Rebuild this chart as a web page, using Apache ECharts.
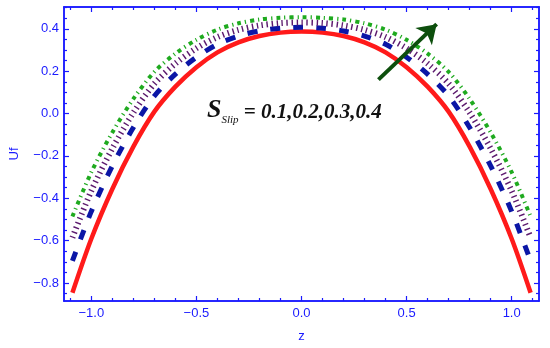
<!DOCTYPE html>
<html>
<head>
<meta charset="utf-8">
<script src="https://cdn.jsdelivr.net/npm/echarts@6/dist/echarts.min.js"></script>
<style>
  html, body { margin: 0; padding: 0; background: #fff; }
  #main { width: 550px; height: 348px; }
</style>
</head>
<body>
<div id="main"></div>
<script>
var zValues = [-1.09, -1.0, -0.9, -0.8, -0.7, -0.6, -0.5, -0.4, -0.3, -0.2, -0.1, 0,
  0.1, 0.2, 0.3, 0.4, 0.5, 0.6, 0.7, 0.8, 0.9, 1.0, 1.09];
// Uf for S_slip = 0.1 .. 0.4
var uSlip1 = [-0.846, -0.591, -0.356, -0.156, 0.009, 0.127, 0.219, 0.289, 0.336, 0.366, 0.382, 0.387,
  0.382, 0.366, 0.336, 0.289, 0.219, 0.127, 0.009, -0.156, -0.356, -0.591, -0.846];
var uSlip2 = [-0.696, -0.462, -0.247, -0.066, 0.083, 0.186, 0.266, 0.327, 0.366, 0.390, 0.403, 0.407,
  0.403, 0.390, 0.366, 0.327, 0.266, 0.186, 0.083, -0.066, -0.247, -0.462, -0.696];
var uSlip3 = [-0.586, -0.365, -0.165, 0.004, 0.141, 0.236, 0.308, 0.361, 0.395, 0.416, 0.427, 0.430,
  0.427, 0.416, 0.395, 0.361, 0.308, 0.236, 0.141, 0.004, -0.165, -0.365, -0.586];
var uSlip4 = [-0.486, -0.277, -0.089, 0.069, 0.197, 0.283, 0.348, 0.396, 0.426, 0.444, 0.452, 0.455,
  0.452, 0.444, 0.426, 0.396, 0.348, 0.283, 0.197, 0.069, -0.089, -0.277, -0.486];

// tick positions
var xMajorTicks = [-1.0, -0.5, 0.0, 0.5, 1.0];
var xMinorTicks = [-1.1, -0.9, -0.8, -0.7, -0.6, -0.4, -0.3, -0.2, -0.1,
  0.1, 0.2, 0.3, 0.4, 0.6, 0.7, 0.8, 0.9, 1.1];
var yMajorTicks = [-0.8, -0.6, -0.4, -0.2, 0.0, 0.2, 0.4];
var yMinorTicks = [-0.85, -0.75, -0.7, -0.65, -0.55, -0.5, -0.45, -0.35, -0.3, -0.25,
  -0.15, -0.1, -0.05, 0.05, 0.1, 0.15, 0.25, 0.3, 0.35, 0.45, 0.5];

// arrow (tail, head) in data coords
var arrowPts = [[0.366, 0.160], [0.643, 0.422]];

var xRange = [-1.13, 1.13];
var yRange = [-0.885, 0.503];
var blue = "#1a1aff";

function pairs(ys) {
  return zValues.map(function (z, i) { return [z, ys[i]]; });
}
function fmt(v) {
  return v.toFixed(1).replace("-", "\u2212");
}

function xAx(pos, ticks, len, labels) {
  return {
    type: "value", position: pos, min: xRange[0], max: xRange[1],
    name: labels ? "z" : "", nameLocation: "middle", nameGap: 29,
    nameTextStyle: { color: blue, fontFamily: "Liberation Sans", fontSize: 13 },
    axisLine: { show: true, onZero: false, lineStyle: { color: blue, width: 1.5 } },
    axisTick: { show: true, inside: true, length: len, customValues: ticks,
      lineStyle: { color: blue, width: 1.2 } },
    axisLabel: { show: labels, customValues: xMajorTicks, formatter: fmt, margin: 6,
      color: blue, fontFamily: "Liberation Sans", fontSize: 13 },
    splitLine: { show: false }
  };
}
function yAx(pos, ticks, len, labels) {
  return {
    type: "value", position: pos, min: yRange[0], max: yRange[1],
    name: labels ? "Uf" : "", nameLocation: "middle", nameGap: 43,
    nameTextStyle: { color: blue, fontFamily: "Liberation Sans", fontSize: 13 },
    axisLine: { show: true, onZero: false, lineStyle: { color: blue, width: 1.5 } },
    axisTick: { show: true, inside: true, length: len, customValues: ticks,
      lineStyle: { color: blue, width: 1.2 } },
    axisLabel: { show: labels, customValues: yMajorTicks, formatter: fmt, margin: 5,
      color: blue, fontFamily: "Liberation Sans", fontSize: 13 },
    splitLine: { show: false }
  };
}

var chart = echarts.init(document.getElementById("main"));
chart.setOption({
  animation: false,
  backgroundColor: "#fff",
  grid: { left: 62, right: 11, top: 7, bottom: 46 },
  xAxis: [
    xAx("bottom", xMajorTicks, 5, true),
    xAx("bottom", xMinorTicks, 3, false),
    xAx("top", xMajorTicks, 5, false),
    xAx("top", xMinorTicks, 3, false)
  ],
  yAxis: [
    yAx("left", yMajorTicks, 5, true),
    yAx("left", yMinorTicks, 3, false),
    yAx("right", yMajorTicks, 5, false),
    yAx("right", yMinorTicks, 3, false)
  ],
  series: [
    {
      type: "line", data: pairs(uSlip1), smooth: 0.3, showSymbol: false,
      lineStyle: { color: "#ff1a1a", width: 4.5 }
    },
    {
      type: "line", data: pairs(uSlip2), smooth: 0.3, showSymbol: false,
      lineStyle: { color: "#0b16a6", width: 5, type: [10, 13] }
    },
    {
      type: "line", data: pairs(uSlip3), smooth: 0.3, showSymbol: false,
      lineStyle: { color: "#5c1a6e", width: 6, type: [1.4, 3.6] }
    },
    {
      type: "line", data: pairs(uSlip4), smooth: 0.3, showSymbol: false,
      lineStyle: { color: "#1faa1f", width: 4, type: [4, 4, 1.2, 4] }
    },
    {
      type: "lines", coordinateSystem: "cartesian2d",
      symbol: ["none", "arrow"], symbolSize: 18,
      lineStyle: { color: "#0d4f0d", width: 4, opacity: 1, curveness: 0 },
      data: [{ coords: arrowPts }],
      z: 5
    }
  ],
  graphic: [
    {
      type: "text", left: 207, top: 97, z: 10,
      style: {
        text: "{s|S}{sub|Slip}{eq| = 0.1,0.2,0.3,0.4}",
        rich: {
          s: { fontFamily: "Liberation Serif", fontStyle: "italic", fontWeight: "bold",
            fontSize: 26, fill: "#111", verticalAlign: "bottom", lineHeight: 26 },
          sub: { fontFamily: "Liberation Serif", fontStyle: "italic",
            fontSize: 11, fill: "#111", verticalAlign: "bottom", padding: [0, 0, -3, 0] },
          eq: { fontFamily: "Liberation Serif", fontStyle: "italic", fontWeight: "bold",
            fontSize: 21, fill: "#111", verticalAlign: "bottom" }
        }
      }
    }
  ]
});
</script>
</body>
</html>
